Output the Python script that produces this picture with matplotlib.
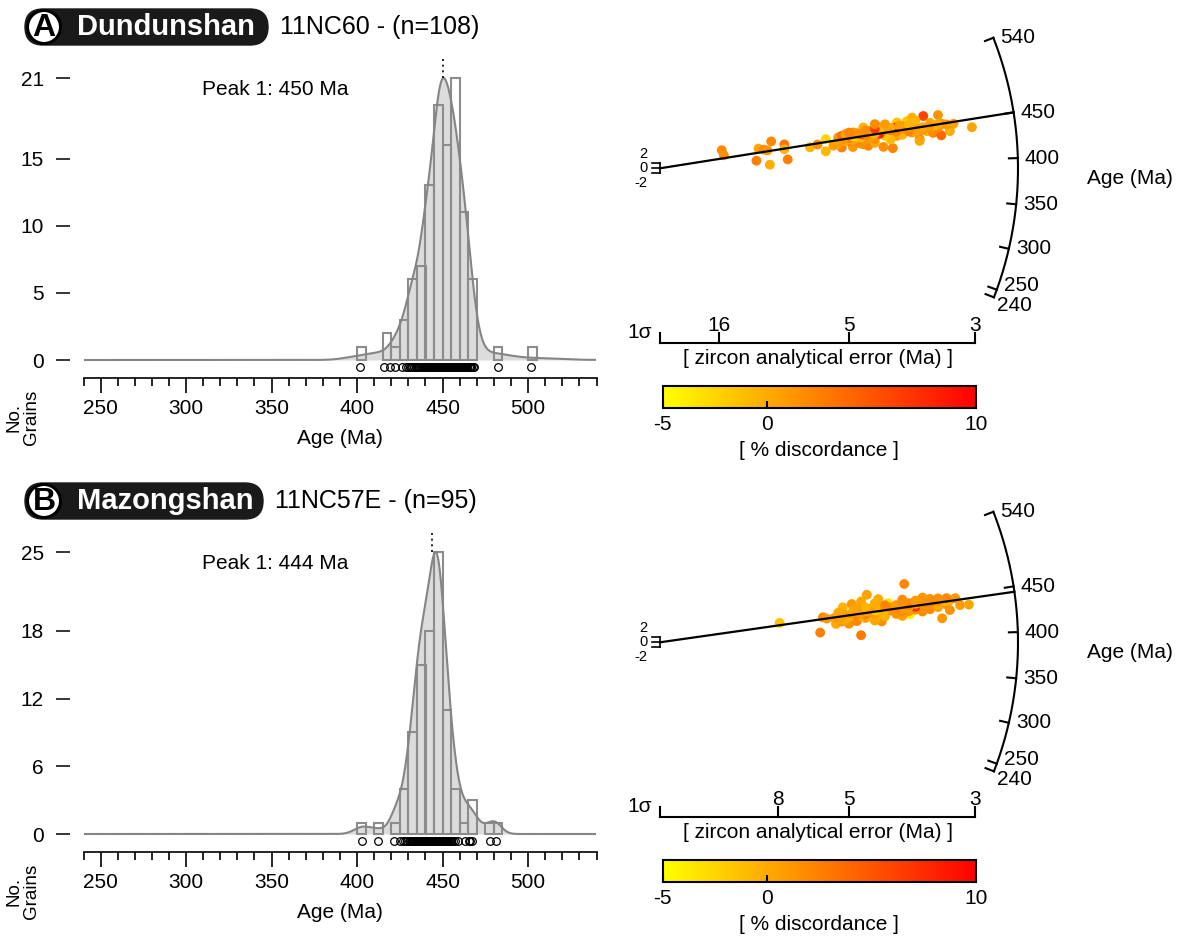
import numpy as np
import matplotlib
matplotlib.use("Agg")
import matplotlib.pyplot as plt
from matplotlib.patches import FancyBboxPatch, Circle
from matplotlib.colors import Normalize
from matplotlib.cm import ScalarMappable
from matplotlib.transforms import blended_transform_factory

plt.rcParams['font.family'] = ['Liberation Sans', 'DejaVu Sans']
plt.rcParams['axes.unicode_minus'] = False

# --- A: Dundunshan 11NC60, zircon U-Pb ages (Ma), 1 sigma (Ma), % discordance
age_a = [501.9, 467.7, 419.3, 401.6, 482.3, 415.8, 466.0, 458.3, 453.3, 463.0,
         448.4, 443.0, 447.2, 457.0, 428.5, 439.4, 455.0, 460.5, 460.6, 466.4,
         446.6, 435.0, 430.7, 461.4, 450.4, 463.5, 441.8, 454.0, 462.6, 466.6,
         443.6, 432.2, 465.6, 442.7, 453.8, 439.0, 462.9, 434.2, 438.5, 447.5,
         426.0, 422.4, 429.7, 431.5, 433.1, 434.6, 436.2, 437.4, 439.8, 440.3,
         440.9, 441.4, 442.2, 443.2, 443.9, 444.3, 444.6, 444.9, 445.2, 445.6,
         446.0, 446.3, 446.9, 447.0, 447.8, 448.1, 448.6, 448.9, 449.2, 449.4,
         449.6, 449.8, 449.9, 450.1, 450.3, 450.6, 450.8, 451.1, 451.4, 451.7,
         452.0, 452.4, 452.7, 453.0, 454.5, 455.2, 455.4, 455.5, 455.7, 455.9,
         456.1, 456.2, 456.4, 456.6, 456.9, 457.1, 457.5, 457.8, 458.0, 458.5,
         458.8, 459.2, 459.6, 460.1, 460.9, 461.8, 464.4, 468.3]
sig_a = [15.3, 14.8, 9.8, 8.6, 8.5, 7.4, 9.6, 9.1, 8.8, 7.6,
         7.6, 6.3, 6.0, 5.7, 5.7, 5.45, 5.25, 5.08, 4.89, 4.65,
         4.55, 4.65, 4.54, 4.30, 4.02, 3.99, 3.99, 3.91, 3.83, 3.75,
         3.75, 3.64, 3.59, 3.54, 3.50, 3.46, 3.40, 3.36, 3.26, 3.22,
         4.23, 4.06, 3.64, 4.9, 5.2, 4.4, 4.7, 4.1, 3.03, 4.8,
         5.3, 4.4, 3.9, 4.6, 3.7, 5.0, 4.2, 3.6, 4.9, 3.4,
         5.1, 3.8, 4.5, 3.5, 4.7, 3.3, 4.0, 3.45, 5.2, 3.6,
         4.3, 3.35, 4.8, 3.5, 4.6, 3.4, 5.0, 3.7, 4.4, 3.9,
         5.3, 4.1, 4.9, 3.8, 4.7, 4.2, 5.1, 3.9, 4.7, 4.0,
         5.3, 3.8, 4.6, 4.1, 5.0, 4.3, 4.8, 3.95, 5.2, 4.5,
         4.9, 4.4, 5.1, 4.6, 3.7, 5.0, 4.2, 4.4]
disc_a = [2.0, 1.5, 2.5, -0.2, 2.0, 2.5, 0.2, 1.8, 1.0, 3.2,
          -0.4, -0.6, 1.6, -2.5, -0.8, 0.6, -0.1, -0.9, 0.8, -0.5,
          1.2, 2.4, 2.0, 0.0, 8.5, -1.5, 1.0, 0.4, -2.0, -0.2,
          0.7, 2.6, 6.0, -0.7, 0.1, 1.9, 1.4, 4.0, -0.3, 0.5,
          1.6, 2.2, 0.3, 1.0, 2.5, 0.0, 1.5, -1.0, 0.4, 2.1,
          0.9, 1.7, -0.6, 1.3, 0.2, 2.8, -1.8, 1.0, 0.5, 1.9,
          -0.2, 2.3, 0.7, 1.4, -1.4, 0.9, 2.0, -0.4, 1.6, 0.3,
          7.8, 1.1, -0.8, 0.6, 1.8, -0.1, 2.6, 0.8, -0.9, 1.2,
          0.0, 2.1, -2.2, 1.5, 8.0, 1.0, -0.3, 2.4, 0.5, 8.9,
          1.3, -0.6, 1.9, 0.1, 2.7, -1.0, 1.6, 0.8, 3.4, -0.1,
          1.4, 6.5, 0.6, 1.7, -0.7, 2.2, 0.9, 1.8]

# --- B: Mazongshan 11NC57E
age_b = [451.8, 412.4, 448.2, 443.8, 429.2, 442.9, 462.9, 466.0, 432.4, 402.6,
         467.3, 481.1, 425.3, 477.7, 465.4, 455.1, 432.3, 450.6, 421.8, 447.2,
         445.1, 436.8, 431.9, 436.0, 426.8, 428.1, 430.5, 431.0, 433.1, 433.6,
         434.2, 434.8, 435.3, 435.7, 436.3, 436.6, 437.0, 437.3, 437.7, 438.0,
         438.4, 438.8, 439.1, 439.5, 439.8, 440.1, 440.4, 440.8, 441.1, 441.5,
         441.8, 442.1, 442.4, 442.7, 443.0, 443.3, 443.6, 443.9, 444.2, 444.5,
         444.8, 445.0, 445.3, 445.5, 445.8, 446.0, 446.2, 446.5, 446.7, 446.9,
         447.1, 447.4, 447.6, 447.8, 448.0, 448.3, 448.5, 448.8, 449.0, 449.2,
         449.5, 449.7, 449.9, 450.3, 450.9, 451.4, 451.9, 452.5, 453.0, 453.6,
         454.2, 454.8, 455.8, 457.0, 458.9]
sig_b = [7.9, 5.9, 5.8, 5.67, 5.37, 5.43, 5.17, 4.93, 4.93, 4.7,
         4.7, 3.87, 4.26, 4.57, 4.33, 4.14, 3.78, 3.71, 3.35, 3.38,
         3.26, 3.15, 3.26, 3.06, 5.0, 4.4, 4.8, 3.9, 5.2, 4.2,
         3.6, 4.6, 4.0, 5.1, 3.5, 4.5, 3.8, 4.9, 3.4, 4.3,
         3.7, 5.3, 3.9, 4.7, 3.3, 4.4, 3.6, 5.0, 3.9, 4.6,
         3.4, 4.1, 5.2, 3.7, 4.3, 3.5, 4.8, 3.8, 4.5, 3.3,
         4.0, 4.7, 3.6, 4.2, 3.4, 5.1, 3.8, 4.4, 3.2, 4.9,
         3.7, 4.1, 3.5, 4.6, 3.9, 5.2, 3.3, 4.3, 3.6, 4.8,
         3.8, 4.0, 3.4, 4.5, 3.5, 4.9, 3.7, 4.2, 5.3, 3.9,
         4.6, 3.6, 4.8, 3.9, 4.4]
disc_b = [-1.5, 2.5, 2.0, 1.0, 0.0, 0.5, -0.5, 1.0, 8.0, 2.8,
          0.2, 2.0, 1.5, 0.5, 0.0, -3.5, -4.0, 0.6, 1.2, 0.0,
          -0.5, 0.8, 1.4, 0.3, 1.5, 0.2, 2.0, 0.5, 1.2, -0.4,
          1.8, 0.9, 1.4, 0.1, 2.0, -0.2, 1.0, 1.9, 0.4, -0.8,
          1.6, 0.7, 2.3, -0.1, 1.1, 0.8, 1.7, -0.6, 1.2, 2.5,
          0.0, 1.5, 0.6, 7.5, -0.3, 1.3, 2.1, 0.2, 1.0, -0.5,
          1.8, 0.9, 1.6, -0.7, 1.2, 0.4, 2.2, -2.5, 1.0, 1.7,
          0.1, 1.4, 2.4, -0.1, 1.1, 0.6, 1.9, -0.4, 1.3, 0.3,
          2.0, 0.8, 1.5, 0.7, 1.6, -0.2, 1.0, 2.3, 0.2, 1.4,
          -0.5, 1.2, 0.5, 1.8, -0.1]

letters = ['A', 'B']
sites = ['Dundunshan', 'Mazongshan']
samples = ['11NC60', '11NC57E']
peaks = [450, 444]
count_ticks = [[0, 5, 10, 15, 21], [0, 6, 12, 18, 25]]
sigma_ticks = [[16, 5, 3], [8, 5, 3]]
arc_ticks = [540, 450, 400, 350, 300, 250, 240]
age_ticks = [250, 300, 350, 400, 450, 500]
disc_ticks = [-5, 0, 10]

# radial plot scaling (arc radius = 1)
T0 = 389.0
PREC_X = 2.64
Z_Y = 0.006846
R_PX = 358.0

W, H = 1180, 939
fig = plt.figure(figsize=(W / 100, H / 100), dpi=100)
NORM = Normalize(-5, 10)
CMAP = 'autumn_r'


def box(x0, y0, x1, y1):
    return [x0 / W, 1 - y1 / H, (x1 - x0) / W, (y1 - y0) / H]


def header(i, dy):
    ax = fig.add_axes(box(0, dy, 600, dy + 55))
    ax.set_xlim(0, 600)
    ax.set_ylim(55, 0)
    ax.axis('off')
    pill_w = 243 if i == 0 else 238
    ax.add_patch(FancyBboxPatch((25, 9), pill_w, 36, boxstyle='round,pad=0,rounding_size=18',
                                fc='#1a1a1a', ec='#1a1a1a'))
    ax.add_patch(Circle((44, 27), 16.5, fc='white', ec='black', lw=2.2))
    ax.text(44, 28, letters[i], ha='center', va='center', fontsize=23, fontweight='bold')
    ax.text(25 + 52, 27, sites[i], ha='left', va='center', fontsize=21, fontweight='bold', color='white')
    ax.text(25 + pill_w + 12, 27, f'{samples[i]} - (n={len(ages[i])})', ha='left', va='center', fontsize=18)


def histogram(i, dy):
    a = np.array(ages[i])
    s = np.array(sigs[i])
    scale = 282.0 / count_ticks[i][-1]
    ax = fig.add_axes(box(83.5, dy + 50, 596.5, dy + 378.3))
    ax.set_xlim(240, 540)
    ax.set_ylim(-18.3 / scale, 310 / scale)

    x = np.linspace(240, 540, 1501)
    pdp = np.zeros_like(x)
    for t, e in zip(a, s):
        pdp += np.exp(-0.5 * ((x - t) / e) ** 2) / e
    counts, edges = np.histogram(a, bins=np.arange(240, 545, 5))
    pdp = pdp / pdp.max() * counts.max()

    ax.fill_between(x, 0, pdp, color='#dcdcdc', lw=0, zorder=1)
    keep = counts > 0
    ax.bar(edges[:-1][keep], counts[keep], width=5, align='edge', fill=False,
           edgecolor='#8c8c8c', lw=1.5, zorder=2)
    ax.plot(x, pdp, color='#858585', lw=1.5, zorder=3)

    tr = blended_transform_factory(ax.transData, ax.transAxes)
    ax.plot(a, np.full(len(a), 0.035), 'o', mfc='none', mec='black', ms=5.5, mew=0.9,
            transform=tr, clip_on=False, zorder=4)

    ax.plot([peaks[i], peaks[i]], [counts.max(), 303 / scale], color='black',
            ls=(0, (1.2, 2.2)), lw=1.2, zorder=4)
    ax.text(0.231, 0.88, f'Peak 1: {peaks[i]} Ma', transform=ax.transAxes, ha='left',
            va='center', fontsize=15)

    for sp in ['top', 'right', 'left']:
        ax.spines[sp].set_visible(False)
    ax.spines['left'].set_position(('outward', 9.5))
    ax.spines['bottom'].set_linewidth(1.2)
    ax.set_yticks(count_ticks[i])
    ax.tick_params(axis='y', length=10, width=1.1, pad=9, labelsize=15)
    ax.set_xticks(age_ticks)
    ax.set_xticks(np.arange(240, 541, 10), minor=True)
    ax.tick_params(axis='x', which='major', length=11, width=1.2, pad=4, labelsize=15)
    ax.tick_params(axis='x', which='minor', length=6, width=1.2)
    ax.set_xlabel('Age (Ma)', fontsize=15, labelpad=8)
    fig.text(23 / W, 1 - (dy + 417) / H, 'No.\nGrains', rotation=90, ha='center', va='center',
             fontsize=13.5, multialignment='center', linespacing=1.0)


def radial(i, dy):
    oy = 168.3 + dy
    a = np.array(ages[i])
    s = np.array(sigs[i])
    ax = fig.add_axes(box(600, oy - 150, 1180, oy + 205))
    ax.set_xlim(-60 / R_PX, 520 / R_PX)
    ax.set_ylim(-205 / R_PX, 150 / R_PX)
    ax.axis('off')

    ax.scatter(PREC_X / s, Z_Y * (a - T0) / s, c=discs[i], cmap=CMAP, norm=NORM,
               s=50, lw=0, zorder=2)

    k = Z_Y / PREC_X
    th = np.arctan(k * (np.linspace(240, 540, 300) - T0))
    ax.plot(np.cos(th), np.sin(th), color='black', lw=1.5)
    for t in arc_ticks:
        g = np.arctan(k * (t - T0))
        ax.plot([np.cos(g), 0.975 * np.cos(g)], [np.sin(g), 0.975 * np.sin(g)], color='black', lw=1.5)
        off = {240: (2, -6), 250: (5, 3)}.get(t, (5, 0))
        ax.annotate(str(t), (np.cos(g), np.sin(g)), xytext=off, textcoords='offset points',
                    ha='left', va='center', fontsize=15)
    g = np.arctan(k * (peaks[i] - T0))
    ax.plot([0, np.cos(g)], [0, np.sin(g)], color='black', lw=1.6, zorder=3)

    # +-2 bar at the origin
    ax.plot([0, 0], [-2 * Z_Y, 2 * Z_Y], color='black', lw=1.2)
    for z, lab, off in [(2, '2', 7), (0, '0', 0), (-2, '-2', -7)]:
        ax.plot([-0.022, 0], [z * Z_Y, z * Z_Y], color='black', lw=1.2)
        ax.annotate(lab, (0, z * Z_Y), xytext=(-9, off), textcoords='offset points',
                    ha='right', va='center', fontsize=10.5)
    ax.text(470 / R_PX, -10 / R_PX, 'Age (Ma)', ha='center', va='center', fontsize=15)

    # precision axis
    yp = -175 / R_PX
    ax.plot([0, PREC_X / min(sigma_ticks[i])], [yp, yp], color='black', lw=1.5)
    ax.plot([0, 0], [yp, yp + 10 / R_PX], color='black', lw=1.5)
    for sv in sigma_ticks[i]:
        ax.plot([PREC_X / sv] * 2, [yp, yp + 10 / R_PX], color='black', lw=1.5)
        ax.text(PREC_X / sv, yp + 8 / R_PX, str(sv), ha='center', va='bottom', fontsize=15)
    ax.text(-20 / R_PX, yp + 1 / R_PX, '1σ', ha='center', va='bottom', fontsize=15)
    ax.text(158 / R_PX, yp - 6 / R_PX, '[ zircon analytical error (Ma) ]', ha='center', va='top',
            fontsize=15)

    cax = fig.add_axes(box(662.7, oy + 217.7, 976, oy + 240))
    cb = fig.colorbar(ScalarMappable(norm=NORM, cmap=CMAP), cax=cax, orientation='horizontal',
                      ticks=disc_ticks)
    cb.outline.set_linewidth(1.5)
    cax.tick_params(direction='in', length=5, width=1.5, labelsize=15, pad=5)
    cb.set_label('[ % discordance ]', fontsize=15, labelpad=5)


ages = [age_a, age_b]
sigs = [sig_a, sig_b]
discs = [disc_a, disc_b]

for i, dy in enumerate([0, 474]):
    header(i, dy)
    histogram(i, dy)
    radial(i, dy)

fig.savefig('out.png', dpi=100)
